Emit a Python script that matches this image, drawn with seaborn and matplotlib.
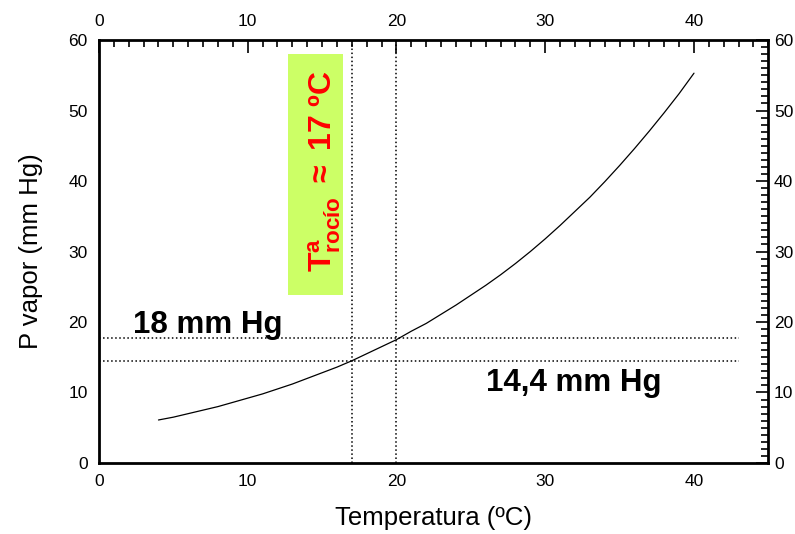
"""Presión de vapor del agua frente a temperatura — punto de rocío"""
import pandas as pd
import matplotlib
matplotlib.use("Agg")
import matplotlib.pyplot as plt
from matplotlib.ticker import MultipleLocator
from matplotlib.transforms import ScaledTranslation
import seaborn as sns

temperatura = [4, 5, 6, 7, 8, 9, 10, 11, 12, 13, 14, 15, 16, 17, 18, 19, 20,
               21, 22, 23, 24, 25, 26, 27, 28, 29, 30, 31, 32, 33, 34, 35, 36,
               37, 38, 39, 40]
p_vapor = [6.1, 6.5, 7.0, 7.5, 8.0, 8.6, 9.2, 9.8, 10.5, 11.2, 12.0, 12.8, 13.6,
           14.5, 15.5, 16.5, 17.5, 18.7, 19.8, 21.1, 22.4, 23.8, 25.2, 26.7,
           28.3, 30.0, 31.8, 33.7, 35.7, 37.7, 39.9, 42.2, 44.6, 47.1, 49.7,
           52.4, 55.3]
p_horiz = [17.7, 14.45]          # 18 mm Hg y 14,4 mm Hg
t_vert = [17, 20]                # T rocío y T ambiente
x_ticks = [0, 10, 20, 30, 40]
y_ticks = [0, 10, 20, 30, 40, 50, 60]

df = pd.DataFrame({"T": temperatura, "P": p_vapor})

# ── estilo ──
sns.set_theme(style="white")
plt.rcParams["font.family"] = ["Liberation Sans", "DejaVu Sans"]
plt.rcParams["text.color"] = "black"
plt.rcParams["axes.labelcolor"] = "black"
plt.rcParams["mathtext.fontset"] = "custom"
plt.rcParams["mathtext.rm"] = "Liberation Sans"
plt.rcParams["mathtext.bf"] = "Liberation Sans:bold"
plt.rcParams["mathtext.it"] = "Liberation Sans:italic"

fig = plt.figure(figsize=(7.95, 5.34), dpi=100)
ax = fig.add_axes([0.1245, 0.133, 0.842, 0.792])

# curva de presión de vapor
sns.lineplot(data=df, x="T", y="P", color="black", linewidth=0.9, ax=ax)

# líneas de referencia punteadas
for p in p_horiz:
    ax.plot([0, 43], [p, p], color="black", linestyle=":", linewidth=1.1)
for t in t_vert:
    ax.plot([t, t], [0, 60], color="black", linestyle=":", linewidth=1.1)

# caja verde con el texto del punto de rocío
ax.add_patch(plt.Rectangle((12.7, 23.8), 3.7, 34.2, facecolor="#ccff66",
                           edgecolor="none", zorder=1))
ax.text(15.2, 41.4, r"$\mathbf{T^{a}_{rocío}}$ $\mathbf{\approx}$ 17 ºC",
        rotation=90, color="#ff0000", fontsize=23, fontweight="bold",
        ha="center", va="center", zorder=3)

ax.text(2.3, 19.6, "18 mm Hg", fontsize=22.5, fontweight="bold",
        ha="left", va="center", color="black")
ax.text(26.0, 11.3, "14,4 mm Hg", fontsize=22.5, fontweight="bold",
        ha="left", va="center", color="black")

# ── ejes ──
ax.set_xlim(0, 45)
ax.set_ylim(0, 60)
ax.set_xticks(x_ticks)
ax.set_yticks(y_ticks)
ax.xaxis.set_minor_locator(MultipleLocator(1))
ax.yaxis.set_minor_locator(MultipleLocator(1))
ax.tick_params(which="both", direction="in", top=True, right=True,
               labeltop=True, labelright=True, colors="black",
               labelsize=12.5, width=1.2)
ax.tick_params(which="major", length=9, pad=8)
ax.tick_params(which="minor", length=5)
for s in ax.spines.values():
    s.set_visible(True)
    s.set_color("black")
    s.set_linewidth(2)

ax.set_xlabel("Temperatura (ºC)", fontsize=18.5, labelpad=12)
ax.set_ylabel("P vapor (mm Hg)", fontsize=18.5, labelpad=18)

# acercar un poco las etiquetas del eje derecho para que no se corten
for t in ax.yaxis.get_major_ticks():
    t.label2.set_transform(t.label2.get_transform()
                           + ScaledTranslation(-4 / 72, 0, fig.dpi_scale_trans))

fig.savefig("out.png", dpi=100)
